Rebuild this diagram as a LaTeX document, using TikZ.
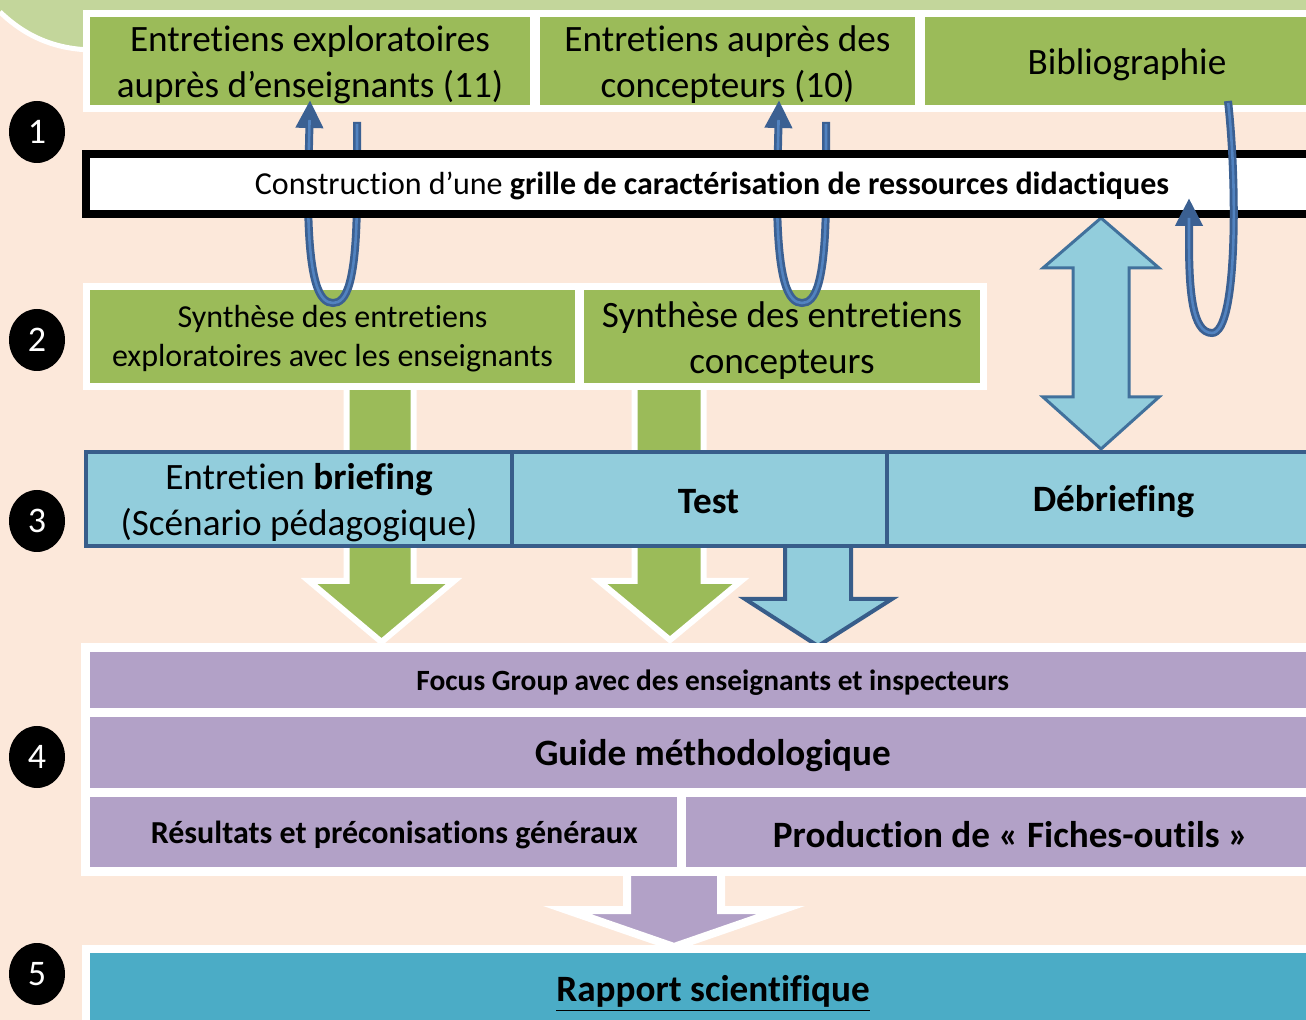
\documentclass[tikz,border=0pt]{standalone}
\usepackage{fontspec}
\setmainfont{Carlito}[Ligatures=NoCommon]
\usetikzlibrary{fit}
\usetikzlibrary{arrows.meta}
\usetikzlibrary{shapes.geometric}
\definecolor{peach}{HTML}{FCE8DA}
\definecolor{leafgreen}{HTML}{9BBB59}
\definecolor{palegreen}{HTML}{C3D69B}
\definecolor{skyblue}{HTML}{92CDDC}
\definecolor{navyline}{HTML}{385D8A}
\definecolor{arrowline}{HTML}{41719C}
\definecolor{loopblue}{HTML}{3B6092}
\definecolor{loopinner}{HTML}{5283C0}
\definecolor{lilac}{HTML}{B2A1C7}
\definecolor{reportblue}{HTML}{4BACC6}
\tikzstyle{green stage}=[draw=white, line width=3.5pt, fill=leafgreen, inner sep=0]
\tikzstyle{blue stage}=[draw=navyline, line width=2pt, fill=skyblue, inner sep=0]
\tikzstyle{lilac stage}=[draw=white, line width=4.5pt, fill=lilac, inner sep=0]
\tikzstyle{report stage}=[draw=white, line width=4pt, fill=reportblue, inner sep=0]
\tikzstyle{grid bar}=[draw=black, line width=4pt, fill=white, inner sep=0]
\tikzstyle{stage number}=[ellipse, fill=black, text=white, minimum width=28pt, minimum height=31pt, inner sep=0, font=\fontsize{18}{22}\selectfont]
\tikzstyle{big text}=[align=center, yshift=-2pt, font=\fontsize{18.6}{23}\selectfont]
\tikzstyle{mid text}=[align=center, yshift=-1pt, font=\fontsize{16}{19.5}\selectfont]
\tikzstyle{bold text}=[yshift=-1.5pt, font=\fontsize{18.6}{22}\selectfont\bfseries]
\tikzstyle{green block}=[draw=white, line width=3pt, fill=leafgreen, line join=miter]
\tikzstyle{blue block}=[draw=navyline, line width=2pt, fill=skyblue, line join=miter]
\tikzstyle{lilac block}=[draw=white, line width=4pt, fill=lilac, line join=miter]
\tikzstyle{loop arrow}=[draw=loopblue, line width=4pt, -{Triangle[length=14pt, width=13pt]}, postaction={draw=loopinner, line width=1.3pt, -, shorten >=10pt, shorten <=1pt}]

\begin{document}
\begin{tikzpicture}[x=0.5pt, y=-0.5pt]
      \useasboundingbox (0,0) rectangle (1306,1020);
      \clip (0,0) rectangle (1306,1020);
      \fill[peach] (0,0) rectangle (1306,1020);
      \fill[palegreen] (0,0) -- (0,12) .. controls (25,36) and (55,50) .. (95,50) -- (1306,50) -- (1306,0) -- cycle;
      \draw[white, line width=2.5pt] (0,12) .. controls (25,36) and (55,50) .. (95,50);

      \filldraw[green block] (346.5,390) -- (346.5,581) -- (309,581) -- (381.5,642) -- (454,581) -- (413.5,581) -- (413.5,390);
      \filldraw[green block] (634.5,390) -- (634.5,581) -- (599,581) -- (670,640) -- (741,581) -- (703.5,581) -- (703.5,390);
      \filldraw[blue block] (785,540) -- (785,599) -- (745,599) -- (818,646) -- (892,599) -- (851,599) -- (851,540);
      \filldraw[blue block, draw=arrowline, line width=1.5pt] (1101,218) -- (1159,268) -- (1129,268) -- (1129,397) -- (1159,397)
        -- (1101,449) -- (1043,397) -- (1073,397) -- (1073,268) -- (1043,268) -- cycle;
      \filldraw[lilac block] (627,871) -- (627,910) -- (567,910) -- (674,947) -- (781,910) -- (721,910) -- (721,871);

      \node[green stage, fit={(86.5,13.5) (533.5,108.5)}] (expl) {};
      \node[big text] (expl_label) at (expl) {Entretiens exploratoires\\auprès d’enseignants (11)};
      \node[green stage, fit={(536.5,13.5) (918.5,108.5)}] (conc) {};
      \node[big text] (conc_label) at (conc) {Entretiens auprès des\\concepteurs (10)};
      \node[green stage, fit={(921.5,13.5) (1332.5,108.5)}] (biblio) {};
      \node[big text] (biblio_label) at (biblio) {Bibliographie};

      \node[green stage, fit={(86.5,286.5) (578.5,386.5)}] (synth_ens) {};
      \node[mid text] (synth_ens_label) at (synth_ens) {Synthèse des entretiens\\exploratoires avec les enseignants};
      \node[green stage, fit={(580.5,286.5) (983.5,386.5)}] (synth_conc) {};
      \node[big text] (synth_conc_label) at (synth_conc) {Synthèse des entretiens\\concepteurs};

      \draw[loop arrow] (357,122) -- (357,190) .. controls (357,285) and (346,303) .. (333,303)
        .. controls (320,303) and (308,285) .. (308,190) -- (310,100);
      \draw[loop arrow] (826,122) -- (826,190) .. controls (826,285) and (815,303) .. (802,303)
        .. controls (789,303) and (777,285) .. (777,190) -- (779,100);

      \node[grid bar, fit={(86,154) (1338,214)}] (grille) {};
      \node[yshift=-1pt, font=\fontsize{16}{19}\selectfont] (grille_label) at (grille) {Construction d’une \textbf{grille de caractérisation de ressources didactiques}};

      \draw[loop arrow] (1228,101) .. controls (1237,180) and (1238,333) .. (1212,333)
        .. controls (1192,333) and (1189,290) .. (1189,240) -- (1189,198);

      \node[blue stage, fit={(86,452) (512,546)}] (briefing) {};
      \node[big text] (briefing_label) at (briefing) {Entretien \textbf{briefing}\\(Scénario pédagogique)};
      \node[blue stage, fit={(512,452) (887,546)}] (test) {};
      \node[bold text, xshift=4.5pt] (test_label) at (test) {Test};
      \node[blue stage, fit={(887,452) (1340,546)}] (debriefing) {};
      \node[bold text] (debriefing_label) at (debriefing) {Débriefing};

      \node[lilac stage, fit={(85.5,647.5) (1340,712.5)}] (focus) {};
      \node[bold text, font=\fontsize{14.7}{17}\selectfont\bfseries] (focus_label) at (focus) {Focus Group avec des enseignants et inspecteurs};
      \node[lilac stage, fit={(85.5,712.5) (1340,792.5)}] (guide) {};
      \node[bold text] (guide_label) at (guide) {Guide méthodologique};
      \node[lilac stage, fit={(85.5,792.5) (681,871.5)}] (results) {};
      \node[bold text, font=\fontsize{16}{19}\selectfont\bfseries, xshift=5.5pt] (results_label) at (results) {Résultats et préconisations généraux};
      \node[lilac stage, fit={(681,792.5) (1340,871.5)}] (fiches) {};
      \node[bold text] (fiches_label) at (fiches) {Production de « Fiches-outils »};

      \node[report stage, fit={(86,949) (1340,1032)}] (rapport) {};
      \node[bold text] (rapport_label) at (rapport) {\underline{Rapport scientifique}};

      \node[stage number] (num1) at (37,132) {1};
      \node[stage number] (num2) at (37,340) {2};
      \node[stage number] (num3) at (37,521) {3};
      \node[stage number] (num4) at (37,757) {4};
      \node[stage number] (num5) at (37,974) {5};
    \end{tikzpicture}
\end{document}
